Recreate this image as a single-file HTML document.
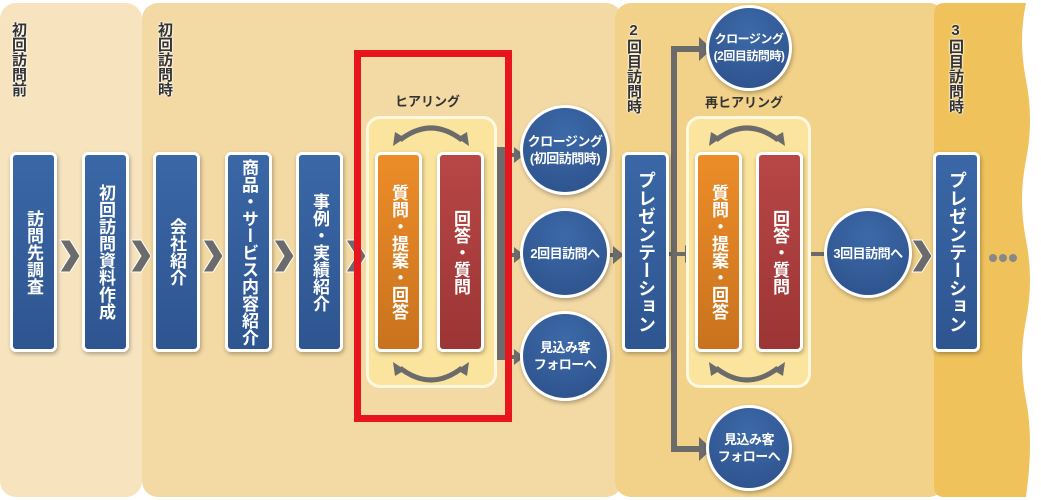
<!DOCTYPE html>
<html><head><meta charset="utf-8"><style>
*{margin:0;padding:0;box-sizing:border-box}
body{width:1041px;height:500px;background:#fff;position:relative;overflow:hidden;font-family:"Liberation Sans","Noto Sans CJK JP",sans-serif}
.a{position:absolute}
.p{position:absolute;border-radius:16px}
.lbl{position:absolute;writing-mode:vertical-rl;text-orientation:upright;font-size:15px;color:#333;font-weight:bold;line-height:16px;letter-spacing:0px;text-shadow:0 0 2px #fff,0 0 2px #fff}
.box{position:absolute;top:152px;height:200px;width:47px;border:3px solid #fff;border-radius:6px;background:linear-gradient(#3a67a6,#2e5590);box-shadow:1px 2px 4px rgba(0,0,0,.3);color:#fff;writing-mode:vertical-rl;display:flex;align-items:center;justify-content:center;font-size:17px;font-weight:bold;line-height:47px}
.or{background:linear-gradient(#ec8d28,#c9721e)}
.rd{background:linear-gradient(#b84646,#9c3535)}
.cir{position:absolute;border-radius:50%;border:3px solid #fff;background:radial-gradient(circle at 50% 30%,#3c69a8,#2c5089);box-shadow:1px 2px 4px rgba(0,0,0,.3);color:#fff;font-size:13px;font-weight:bold;display:flex;align-items:center;justify-content:center;text-align:center;line-height:17px;white-space:nowrap;letter-spacing:-0.5px}
.cont{position:absolute;top:116px;height:272px;border:3px solid #fff8e0;border-radius:14px;background:#fbe49d}
.hl{position:absolute;font-size:13px;font-weight:bold;color:#333}
</style></head><body>
<div class="p" style="left:0;top:3px;width:142px;height:494px;background:#f7e4bf"></div>
<div class="p" style="left:142px;top:3px;width:480px;height:494px;background:#f3d9a3"></div>
<div class="p" style="left:615px;top:3px;width:330px;height:494px;background:#f2d289"></div>
<svg class="a" style="left:934px;top:0" width="107" height="500"><path d="M10 3 H92 Q84 40 92 80 Q100 120 92 160 Q84 200 92 240 Q100 280 92 320 Q84 360 92 400 Q100 440 92 497 H10 Q0 497 0 485 V15 Q0 3 10 3Z" fill="#efc25c"/></svg>

<div class="lbl" style="left:10px;top:22px">初回訪問前</div>
<div class="lbl" style="left:156px;top:22px">初回訪問時</div>
<div class="lbl" style="left:625px;top:22px">2回目訪問時</div>
<div class="lbl" style="left:947px;top:22px">3回目訪問時</div>

<svg class="a" style="left:0;top:0" width="1041" height="500">
<g fill="#6b6b6b" stroke="#fff" stroke-width="1">
<path d="M60 240h10l10 16-10 16h-10l10-16z"/><path d="M131 240h10l10 16-10 16h-10l10-16z"/>
<path d="M203 240h10l10 16-10 16h-10l10-16z"/><path d="M274 240h10l10 16-10 16h-10l10-16z"/>
<path d="M346 240h10l10 16-10 16h-10l10-16z"/><path d="M912 240h10l10 16-10 16h-10l10-16z"/>
</g>
<rect x="497" y="147" width="9" height="213" fill="#6b6b6b"/>
<g fill="#6b6b6b">
<path d="M506 153h8v-6l10 8-10 8v-6h-8z"/><path d="M506 253h8v-6l10 8-10 8v-6h-8z"/><path d="M506 355h8v-6l10 8-10 8v-6h-8z"/>
<path d="M605 253h8v-7l11 9-11 9v-7h-8z"/>
<rect x="671" y="46" width="6" height="406"/>
<path d="M671 46h28v-9l13 12-13 12v-9h-28z"/><path d="M671 446h28v-9l13 12-13 12v-9h-28z"/>
<path d="M667 252h18v-7l11 9-11 9v-7h-18z"/>
<path d="M810 252h16v-7l11 9-11 9v-7h-16z"/>
</g>
<g fill="#888"><circle cx="993" cy="258" r="4"/><circle cx="1003" cy="258" r="4"/><circle cx="1013" cy="258" r="4"/></g>
</svg>

<div class="box" style="left:10px">訪問先調査</div>
<div class="box" style="left:82px">初回訪問資料作成</div>
<div class="box" style="left:153px">会社紹介</div>
<div class="box" style="left:225px">商品・サービス内容紹介</div>
<div class="box" style="left:296px">事例・実績紹介</div>

<div class="hl" style="left:395px;top:91px">ヒアリング</div>
<div class="cont" style="left:366px;width:131px"></div>
<div class="box or" style="left:375px">質問・提案・回答</div>
<div class="box rd" style="left:437px">回答・質問</div>

<div class="hl" style="left:705px;top:92px">再ヒアリング</div>
<div class="cont" style="left:686px;width:125px"></div>
<div class="box or" style="left:695px">質問・提案・回答</div>
<div class="box rd" style="left:756px">回答・質問</div>

<svg class="a" style="left:0;top:0" width="1041" height="500">
<g fill="none" stroke="#6b6b6b" stroke-width="5">
<path d="M400 140 Q431 116 462 140"/><path d="M400 368 Q431 392 462 368"/>
<path d="M716 140 Q747 116 778 140"/><path d="M716 368 Q747 392 778 368"/>
</g>
<g fill="#6b6b6b">
<path d="M393 146l2-14 10 6z"/><path d="M469 146l-2-14-10 6z"/><path d="M393 362l2 14 10-6z"/><path d="M469 362l-2 14-10-6z"/>
<path d="M709 146l2-14 10 6z"/><path d="M785 146l-2-14-10 6z"/><path d="M709 362l2 14 10-6z"/><path d="M785 362l-2 14-10-6z"/>
</g>
</svg>

<div class="box" style="left:622px;font-size:18px">プレゼンテーション</div>
<div class="box" style="left:933px;font-size:18px">プレゼンテーション</div>

<div class="cir" style="left:520px;top:105px;width:90px;height:90px">クロージング<br>(初回訪問時)</div>
<div class="cir" style="left:520px;top:208px;width:90px;height:90px">2回目訪問へ</div>
<div class="cir" style="left:520px;top:311px;width:90px;height:90px">見込み客<br>フォローへ</div>
<div class="cir" style="left:706px;top:5px;width:86px;height:86px;font-size:12px">クロージング<br>(2回目訪問時)</div>
<div class="cir" style="left:706px;top:405px;width:86px;height:86px">見込み客<br>フォローへ</div>
<div class="cir" style="left:824px;top:208px;width:88px;height:90px">3回目訪問へ</div>

<div class="a" style="left:354px;top:50px;width:158px;height:372px;border:7px solid #e8141e"></div>
</body></html>
